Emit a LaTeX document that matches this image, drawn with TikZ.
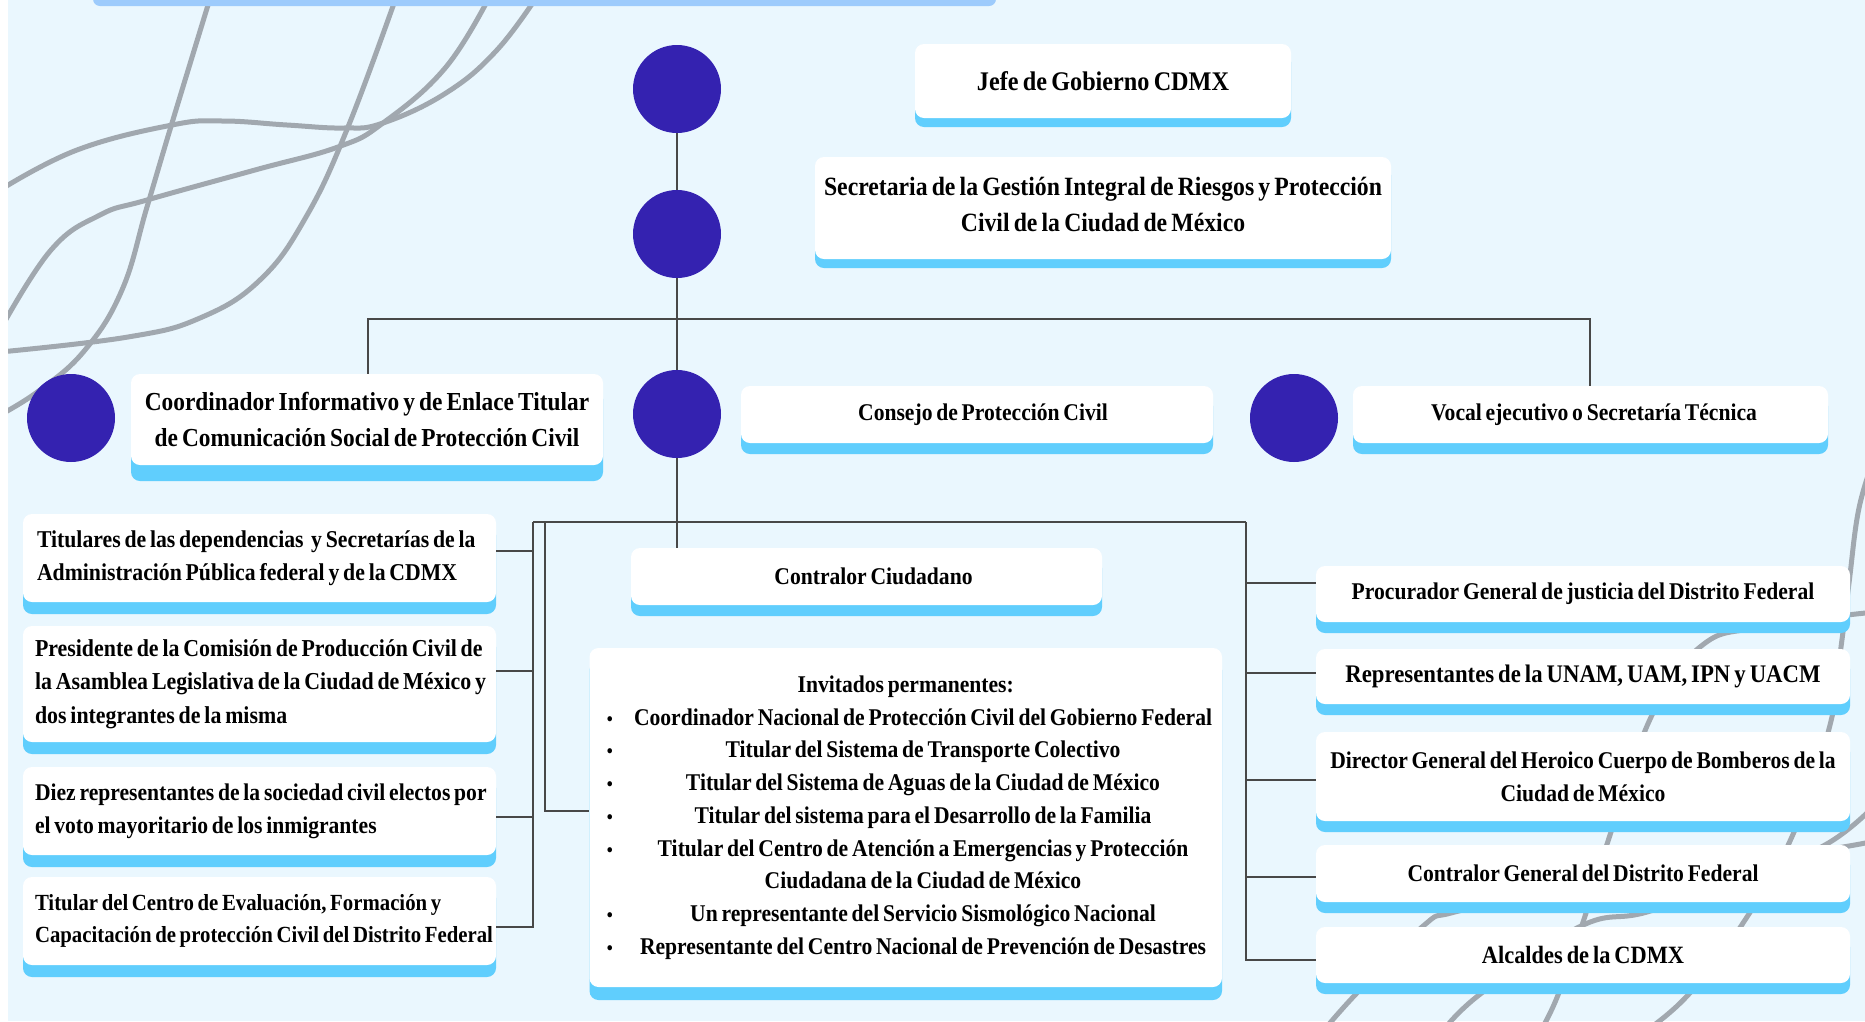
\documentclass[tikz,border=0pt]{standalone}
\usepackage{fontspec}
\newfontfamily\cardfont{Liberation Serif}[FakeStretch=0.9, WordSpace=0.7]
\usetikzlibrary{shadows}

\definecolor{bgblue}{RGB}{234,247,254}
\definecolor{topbar}{RGB}{157,203,252}
\definecolor{bandblue}{RGB}{96,206,253}
\definecolor{dotblue}{RGB}{52,34,176}
\definecolor{linegray}{RGB}{72,72,72}
\definecolor{swirl}{RGB}{161,168,175}

\newcommand\bulletmark{{\fontsize{19}{19}\selectfont\textbullet}}
\newcommand\invitem[1]{\hbox to 621pt{\makebox[29pt]{\bulletmark}\hskip5.5pt\hfil#1\hfil}}
\newcommand\invcont[1]{\hbox to 621pt{\hskip34.5pt\hfil#1\hfil}}
\newcommand\oneline[1]{\mbox{#1}}

\begin{document}
\begin{tikzpicture}[x=1pt,y=-1pt,
  card/.style={fill=white, rounded corners=9pt, inner sep=0pt, align=center,
    font=\cardfont\bfseries\fontsize{24}{33}\selectfont,
    general shadow={fill=bandblue, shadow yshift=-#1pt}},
  card/.default=11,
  leftcard/.style={card=12, align=flush left, minimum width=473pt, minimum height=88pt,
    text width=449pt, inner xsep=12pt,
    font=\cardfont\bfseries\fontsize{24}{33}\selectfont},
  rightcard/.style={card=11, minimum width=534pt},
  dot/.style={circle, fill=dotblue, minimum size=88pt, inner sep=0pt},
  conn/.style={draw=linegray, line width=2.6pt},
  swirlline/.style={draw=swirl, line width=5pt, line cap=round}
]
\useasboundingbox (0,0) rectangle (1865,1021);
\fill[white] (0,0) rectangle (1865,1021);
\fill[bgblue] (8,0) rectangle (1865,1021);

% decorative swirls
\begin{scope}
\clip (8,0) rectangle (1865,1021);
\draw[swirlline] plot[smooth, tension=0.7] coordinates
  {(212,-8) (172,123) (147,207) (122,290) (85,350) (40,390) (0,415)};
\draw[swirlline] plot[smooth, tension=0.7] coordinates
  {(398,-8) (348,127) (306,217) (260,280) (200,318) (128,337) (0,352)};
\draw[swirlline] plot[smooth, tension=0.7] coordinates
  {(0,190) (77,150) (172,125) (223,121) (287,125) (344,128) (383,123) (446,93) (497,50) (540,-8)};
\draw[swirlline] plot[smooth, tension=0.7] coordinates
  {(0,330) (51,250) (100,215) (147,200) (255,170) (338,147) (383,123) (446,67) (492,-8)};
% lower right
\draw[swirlline] plot[smooth, tension=0.7] coordinates
  {(1538,1035) (1558,995) (1586,913) (1611,832) (1652,715) (1700,647) (1760,627) (1875,612)};
\draw[swirlline] plot[smooth, tension=0.7] coordinates
  {(1870,470) (1858,513) (1849,583) (1841,647) (1830,725) (1794,832) (1745,920) (1688,995) (1640,1035)};
\draw[swirlline] plot[smooth, tension=0.7] coordinates
  {(1440,1035) (1479,995) (1579,927) (1647,912) (1740,880) (1825,845) (1875,805)};
\draw[swirlline] plot[smooth, tension=0.7] coordinates
  {(1320,1035) (1355,995) (1422,927) (1451,913) (1520,900) (1650,880) (1760,860) (1843,847) (1875,841)};
\end{scope}

\fill[topbar, rounded corners=7pt] (93,-20) rectangle (996,6);

% circles
\node[dot] (c1) at (677,89) {};
\node[dot] (c2) at (677,234) {};
\node[dot] (c3) at (677,414) {};
\node[dot] (c0) at (71,418) {};
\node[dot] (c4) at (1294,418) {};

% upper boxes
\node[card=9, minimum width=376pt, minimum height=74pt,
  font=\cardfont\bfseries\fontsize{26.9}{33}\selectfont] (jefe) at (1103,81) {Jefe de Gobierno CDMX};
\node[card=9, minimum width=576pt, minimum height=102pt,
  font=\cardfont\bfseries\fontsize{26.35}{36}\selectfont] (secre) at (1103,208)
  {Secretaria de la Gestión Integral de Riesgos y Protección\\Civil de la Ciudad de México\rule[-8pt]{0pt}{8pt}};
\node[card=16, minimum width=472pt, minimum height=91pt,
  font=\cardfont\bfseries\fontsize{25.95}{35.7}\selectfont] (coord) at (367,419.5)
  {Coordinador Informativo y de Enlace Titular\\de Comunicación Social de Protección Civil};
\node[card, minimum width=472pt, minimum height=57pt] (consejo) at (977,414.5) {\hspace*{12pt}Consejo de Protección Civil};
\node[card, minimum width=475pt, minimum height=57pt] (vocal) at (1590.5,414.5) {\hspace*{7pt}Vocal ejecutivo o Secretaría Técnica};

% left column
\node[leftcard, text width=445pt, inner xsep=14pt,
  font=\cardfont\bfseries\fontsize{24.15}{33}\selectfont] (titulares) at (259.5,558)
  {\oneline{Titulares de las dependencias\ \ y Secretarías de la}\\\oneline{Administración Pública federal y de la CDMX}};
\node[leftcard, minimum height=116pt,
  font=\cardfont\bfseries\fontsize{24.3}{33.3}\selectfont] (presidente) at (259.5,684)
  {\oneline{Presidente de la Comisión de Producción Civil de}\\\oneline{la Asamblea Legislativa de la Ciudad de México y}\\\oneline{dos integrantes de la misma}};
\node[leftcard] (diez) at (259.5,811)
  {\oneline{Diez representantes de la sociedad civil electos por}\\\oneline{el voto mayoritario de los inmigrantes}};
\node[leftcard, font=\cardfont\bfseries\fontsize{23.1}{32.5}\selectfont] (centro) at (259.5,921)
  {\oneline{Titular del Centro de Evaluación, Formación y}\\\oneline{Capacitación de protección Civil del Distrito Federal}};

% middle column
\node[card, minimum width=471pt, minimum height=57pt] (contralorC) at (866.5,576.5) {\hspace*{14pt}Contralor Ciudadano};
\node[card=13, minimum width=632.5pt, minimum height=339pt,
  font=\cardfont\bfseries\fontsize{24}{32.75}\selectfont] (invit) at (905.75,817.5)
  {\begin{minipage}{621pt}\centering Invitados permanentes:\par
   \invitem{Coordinador Nacional de Protección Civil del Gobierno Federal}
   \invitem{Titular del Sistema de Transporte Colectivo}
   \invitem{Titular del Sistema de Aguas de la Ciudad de México}
   \invitem{Titular del sistema para el Desarrollo de la Familia}
   \invitem{Titular del Centro de Atención a Emergencias y Protección}
   \invcont{Ciudadana de la Ciudad de México}
   \invitem{Un representante del Servicio Sismológico Nacional}
   \invitem{Representante del Centro Nacional de Prevención de Desastres}
   \end{minipage}};

% right column
\node[rightcard, minimum height=56pt] (procurador) at (1583,594) {Procurador General de justicia del Distrito Federal};
\node[rightcard, minimum height=55pt,
  font=\cardfont\bfseries\fontsize{25.3}{33}\selectfont] (represent) at (1583,676.5) {Representantes de la UNAM, UAM, IPN y UACM};
\node[rightcard, minimum height=89pt] (director) at (1583,776.5)
  {Director General del Heroico Cuerpo de Bomberos de la\\Ciudad de México};
\node[rightcard, minimum height=57pt] (contralorG) at (1583,873.5) {Contralor General del Distrito Federal};
\node[rightcard, minimum height=56pt,
  font=\cardfont\bfseries\fontsize{24.9}{33}\selectfont] (alcaldes) at (1583,955) {Alcaldes de la CDMX};

% connectors: top spine
\draw[conn] (c1) -- (c2);
\draw[conn] (c2) -- (c3);
\coordinate (busL) at (368,319);
\coordinate (busR) at (1590,319);
\draw[conn] (coord.north -| busL) -- (busL) -- (busR) -- (vocal.north -| busR);
\draw[conn] (c3.south) -- (c3.south |- contralorC.north);

% connectors: council bus
\coordinate (bL) at (533,522);
\coordinate (bM) at (545,522);
\coordinate (bR) at (1246,522);
\coordinate (jT) at (533,551);
\coordinate (jP) at (533,671);
\coordinate (jD) at (533,817);
\coordinate (jC) at (533,927);
\coordinate (jI) at (545,811);
\coordinate (kP) at (1246,583);
\coordinate (kR) at (1246,673);
\coordinate (kD) at (1246,780);
\coordinate (kC) at (1246,877);
\coordinate (kA) at (1246,960);
\draw[conn] (bL) -- (bR);
\draw[conn] (bL) -- (jC) -- (centro.east |- jC);
\draw[conn] (jT) -- (titulares.east |- jT);
\draw[conn] (jP) -- (presidente.east |- jP);
\draw[conn] (jD) -- (diez.east |- jD);
\draw[conn] (bM) -- (jI) -- (invit.west |- jI);
\draw[conn] (bR) -- (kA) -- (alcaldes.west |- kA);
\draw[conn] (kP) -- (procurador.west |- kP);
\draw[conn] (kR) -- (represent.west |- kR);
\draw[conn] (kD) -- (director.west |- kD);
\draw[conn] (kC) -- (contralorG.west |- kC);
\end{tikzpicture}
\end{document}
